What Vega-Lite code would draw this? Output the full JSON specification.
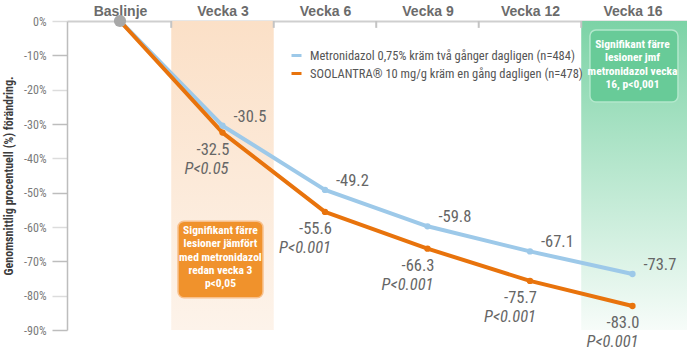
{
  "$schema": "https://vega.github.io/schema/vega-lite/v6.json",
  "width": 620,
  "height": 309,
  "autosize": {"type": "none"},
  "padding": {"left": 67, "top": 21, "right": 0, "bottom": 22},
  "background": "white",
  "config": {"view": {"stroke": null}, "font": "Roboto Condensed"},
  "datasets": {
    "main": [
      {"week": "Baslinje", "idx": 0, "series": "Metronidazol 0,75% kräm två gånger dagligen (n=484)", "value": 0, "p": ""},
      {"week": "Vecka 3", "idx": 1, "series": "Metronidazol 0,75% kräm två gånger dagligen (n=484)", "value": -30.5, "p": ""},
      {"week": "Vecka 6", "idx": 2, "series": "Metronidazol 0,75% kräm två gånger dagligen (n=484)", "value": -49.2, "p": ""},
      {"week": "Vecka 9", "idx": 3, "series": "Metronidazol 0,75% kräm två gånger dagligen (n=484)", "value": -59.8, "p": ""},
      {"week": "Vecka 12", "idx": 4, "series": "Metronidazol 0,75% kräm två gånger dagligen (n=484)", "value": -67.1, "p": ""},
      {"week": "Vecka 16", "idx": 5, "series": "Metronidazol 0,75% kräm två gånger dagligen (n=484)", "value": -73.7, "p": ""},
      {"week": "Baslinje", "idx": 0, "series": "SOOLANTRA® 10 mg/g kräm en gång dagligen (n=478)", "value": 0, "p": ""},
      {"week": "Vecka 3", "idx": 1, "series": "SOOLANTRA® 10 mg/g kräm en gång dagligen (n=478)", "value": -32.5, "p": "P<0.05"},
      {"week": "Vecka 6", "idx": 2, "series": "SOOLANTRA® 10 mg/g kräm en gång dagligen (n=478)", "value": -55.6, "p": "P<0.001"},
      {"week": "Vecka 9", "idx": 3, "series": "SOOLANTRA® 10 mg/g kräm en gång dagligen (n=478)", "value": -66.3, "p": "P<0.001"},
      {"week": "Vecka 12", "idx": 4, "series": "SOOLANTRA® 10 mg/g kräm en gång dagligen (n=478)", "value": -75.7, "p": "P<0.001"},
      {"week": "Vecka 16", "idx": 5, "series": "SOOLANTRA® 10 mg/g kräm en gång dagligen (n=478)", "value": -83.0, "p": "P<0.001"}
    ],
    "boundaries": [{"b": 0.5}, {"b": 1.5}, {"b": 2.5}, {"b": 3.5}, {"b": 4.5}]
  },
  "layer": [
    {
      "data": {"values": [{"band": "Vecka 3"}]},
      "mark": {"type": "rect", "color": {"gradient": "linear", "x1": 0, "y1": 0, "x2": 0, "y2": 1, "stops": [{"offset": 0, "color": "#FBE0C7"}, {"offset": 1, "color": "#FDF3EA"}]}},
      "encoding": {
        "x": {"datum": 0.5, "type": "quantitative"},
        "x2": {"datum": 1.5},
        "y": {"datum": 0, "type": "quantitative"},
        "y2": {"datum": -90}
      }
    },
    {
      "data": {"values": [{"band": "Vecka 16"}]},
      "mark": {"type": "rect", "color": {"gradient": "linear", "x1": 0, "y1": 0, "x2": 0, "y2": 1, "stops": [{"offset": 0, "color": "#7CD3A6"}, {"offset": 1, "color": "#F7FCF9"}]}},
      "encoding": {
        "x": {"datum": 4.5, "type": "quantitative"},
        "x2": {"datum": 5.532},
        "y": {"datum": 0, "type": "quantitative"},
        "y2": {"datum": -90}
      }
    },
    {
      "data": {"name": "boundaries"},
      "mark": {"type": "rule", "color": "#c4c4c4", "strokeWidth": 2},
      "encoding": {
        "x": {"field": "b", "type": "quantitative"},
        "y": {"datum": 0, "type": "quantitative"},
        "y2": {"datum": -2}
      }
    },
    {
      "data": {"name": "main"},
      "mark": {"type": "line", "strokeWidth": 4, "strokeJoin": "round"},
      "encoding": {
        "x": {"field": "idx", "type": "quantitative", "scale": {"domain": [-0.517, 5.532], "nice": false, "zero": false},
          "axis": {"orient": "top", "values": [0, 1, 2, 3, 4, 5], "tickCount": 20, "labelExpr": "['Baslinje','Vecka 3','Vecka 6','Vecka 9','Vecka 12','Vecka 16'][datum.value]", "ticks": false, "domainColor": "#cfcfcf", "domainWidth": 2, "labelFont": "Liberation Sans", "labelFontWeight": "bold", "labelFontSize": 14, "labelColor": "#6b6b6b", "labelPadding": 3, "title": null, "grid": false, "labelFlush": false, "labelOverlap": false}},
        "y": {"field": "value", "type": "quantitative", "scale": {"domain": [-90, 0], "nice": false, "zero": false},
          "axis": {"orient": "left", "values": [0, -10, -20, -30, -40, -50, -60, -70, -80, -90], "tickCount": 20, "labelExpr": "datum.value + '%'", "labelOverlap": false, "labelFlush": false, "tickSize": 15,
            "tickColor": {"condition": {"test": "datum.value % 20 == 0", "value": "#dcdcdc"}, "value": "#bdbdbd"},
            "tickWidth": 1.5, "domainColor": "#bdbdbd", "domainWidth": 1.5, "labelFont": "Roboto Condensed", "labelFontSize": 12, "labelColor": "#7a7a7a", "labelPadding": 6, "grid": false, "title": "Genomsnittlig procentuell (%) förändring.", "titleFont": "Roboto Condensed", "titleFontSize": 12, "titleFontWeight": "bold", "titleColor": "#3d3d3d", "titlePadding": 8}},
        "color": {"field": "series", "type": "nominal",
          "scale": {"domain": ["Metronidazol 0,75% kräm två gånger dagligen (n=484)", "SOOLANTRA® 10 mg/g kräm en gång dagligen (n=478)"], "range": ["#9DC9E9", "#E8730C"]},
          "legend": {"orient": "none", "legendX": 223, "legendY": 28, "title": null, "symbolType": "stroke", "symbolStrokeWidth": 3, "symbolSize": 100, "labelFont": "Roboto Condensed", "labelFontSize": 12.5, "labelColor": "#555555", "labelLimit": 400, "rowPadding": 5, "labelOffset": 7}}
      }
    },
    {
      "data": {"name": "main"},
      "transform": [{"filter": "datum.idx > 0"}],
      "mark": {"type": "circle", "size": 40, "opacity": 1},
      "encoding": {
        "x": {"field": "idx", "type": "quantitative"},
        "y": {"field": "value", "type": "quantitative"},
        "color": {"field": "series", "type": "nominal"}
      }
    },
    {
      "data": {"values": [{"week": "Baslinje"}]},
      "mark": {"type": "circle", "size": 150, "color": "#A8A8A8", "opacity": 1},
      "encoding": {
        "x": {"datum": 0, "type": "quantitative"},
        "y": {"datum": 0, "type": "quantitative"}
      }
    },
    {
      "data": {"name": "main"},
      "transform": [{"filter": "datum.idx > 0 && datum.p == ''"}, {"calculate": "replace(format(datum.value, '.1f'), '\u2212', '-')", "as": "lbl"}],
      "mark": {"type": "text", "align": "left", "baseline": "middle", "dx": 11, "dy": -9, "fontSize": 16.5, "color": "#666666", "font": "Roboto Condensed"},
      "encoding": {
        "x": {"field": "idx", "type": "quantitative"},
        "y": {"field": "value", "type": "quantitative"},
        "text": {"field": "lbl", "type": "nominal"}
      }
    },
    {
      "data": {"name": "main"},
      "transform": [{"filter": "datum.idx > 0 && datum.p != ''"}, {"calculate": "replace(format(datum.value, '.1f'), '\u2212', '-')", "as": "lbl"}],
      "mark": {"type": "text", "align": "right", "baseline": "middle", "dx": 7, "dy": 17, "fontSize": 16.5, "color": "#666666", "font": "Roboto Condensed"},
      "encoding": {
        "x": {"field": "idx", "type": "quantitative"},
        "y": {"field": "value", "type": "quantitative"},
        "text": {"field": "lbl", "type": "nominal"}
      }
    },
    {
      "data": {"name": "main"},
      "transform": [{"filter": "datum.idx > 0 && datum.p != ''"}],
      "mark": {"type": "text", "align": "right", "baseline": "middle", "dx": 6, "dy": 36, "fontSize": 16.5, "fontStyle": "italic", "color": "#666666", "font": "Roboto Condensed"},
      "encoding": {
        "x": {"field": "idx", "type": "quantitative"},
        "y": {"field": "value", "type": "quantitative"},
        "text": {"field": "p", "type": "nominal"}
      }
    },
    {
      "data": {"values": [{"note": "Vecka 3"}]},
      "mark": {"type": "rect", "color": "#F0922C", "stroke": "#F8C08C", "strokeWidth": 1.5, "cornerRadius": 6},
      "encoding": {
        "x": {"datum": 0.566, "type": "quantitative"},
        "x2": {"datum": 1.395},
        "y": {"datum": -58.3, "type": "quantitative"},
        "y2": {"datum": -80.6}
      }
    },
    {
      "data": {"values": [{"note": "Signifikant färre\nlesioner jämfört\nmed metronidazol\nredan vecka 3\np<0,05"}]},
      "mark": {"type": "text", "align": "center", "baseline": "middle", "lineBreak": "\n", "lineHeight": 13.3, "fontSize": 11.5, "fontWeight": "bold", "color": "white", "font": "Roboto Condensed"},
      "encoding": {
        "x": {"datum": 0.98, "type": "quantitative"},
        "y": {"datum": -61.2, "type": "quantitative"},
        "text": {"field": "note", "type": "nominal"}
      }
    },
    {
      "data": {"values": [{"note": "Vecka 16"}]},
      "mark": {"type": "rect", "color": "#68CB98", "stroke": "#B3E8CC", "strokeWidth": 1.5, "cornerRadius": 6},
      "encoding": {
        "x": {"datum": 4.585, "type": "quantitative"},
        "x2": {"datum": 5.444},
        "y": {"datum": -2.6, "type": "quantitative"},
        "y2": {"datum": -23.6}
      }
    },
    {
      "data": {"values": [{"note": "Signifikant färre\nlesioner jmf\nmetronidazol vecka\n16, p<0,001"}]},
      "mark": {"type": "text", "align": "center", "baseline": "middle", "lineBreak": "\n", "lineHeight": 13.3, "fontSize": 11.5, "fontWeight": "bold", "color": "white", "font": "Roboto Condensed"},
      "encoding": {
        "x": {"datum": 5.0, "type": "quantitative"},
        "y": {"datum": -7.0, "type": "quantitative"},
        "text": {"field": "note", "type": "nominal"}
      }
    }
  ]
}
